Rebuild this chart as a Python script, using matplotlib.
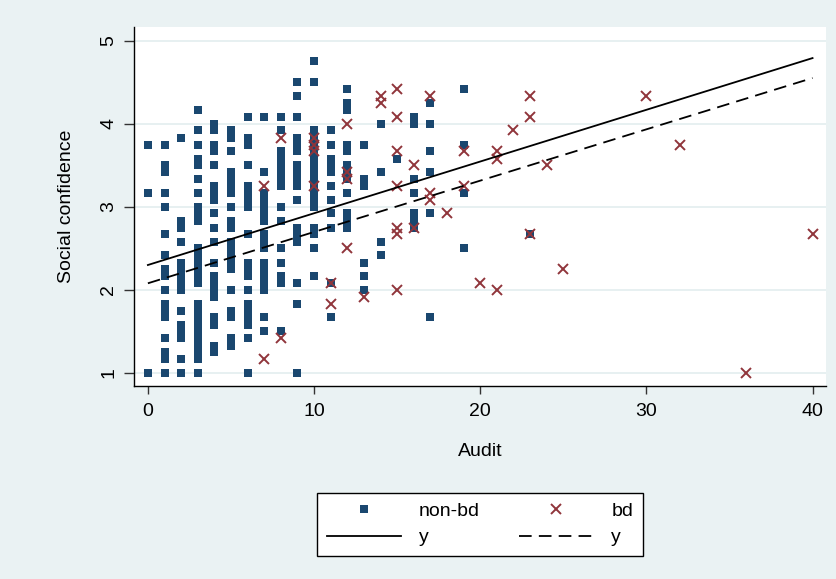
import matplotlib
matplotlib.use("Agg")
import matplotlib.pyplot as plt
from matplotlib.lines import Line2D

# ---------------- data ----------------
nonbd_audit = [0, 1, 2, 3, 4, 5, 6, 7, 8, 9, 10, 11, 12, 13, 14, 15, 16, 17, 19, 23]
nonbd_conf = [
    [3.75, 3.17, 1.00],
    [3.75, 3.50, 3.42, 3.17, 3.00, 2.67, 2.42, 2.25, 2.17, 2.00, 1.83, 1.75, 1.67, 1.42, 1.25, 1.17, 1.00],
    [3.83, 2.83, 2.75, 2.58, 2.33, 2.25, 2.17, 2.08, 2.00, 1.75, 1.58, 1.50, 1.42, 1.17, 1.00],
    [4.17, 3.92, 3.75, 3.58, 3.50, 3.33, 3.17, 3.00, 2.92, 2.83, 2.50, 2.42, 2.33, 2.25, 2.17, 2.08,
     1.83, 1.75, 1.67, 1.58, 1.50, 1.42, 1.33, 1.25, 1.17, 1.00],
    [4.00, 3.92, 3.75, 3.67, 3.50, 3.25, 3.17, 3.08, 2.92, 2.75, 2.58, 2.33, 2.17, 2.08, 2.00, 1.92,
     1.67, 1.58, 1.33, 1.25],
    [3.92, 3.83, 3.67, 3.42, 3.33, 3.25, 3.17, 3.00, 2.83, 2.75, 2.58, 2.50, 2.42, 2.33, 2.25, 2.00,
     1.75, 1.67, 1.42, 1.33],
    [4.08, 3.83, 3.75, 3.50, 3.25, 3.17, 3.08, 3.00, 2.67, 2.33, 2.25, 2.17, 2.00, 1.83, 1.75, 1.67,
     1.58, 1.42, 1.00],
    [4.08, 3.42, 3.17, 3.08, 3.00, 2.92, 2.83, 2.67, 2.58, 2.50, 2.33, 2.25, 2.17, 2.08, 2.00, 1.67, 1.50],
    [4.08, 3.92, 3.67, 3.58, 3.50, 3.42, 3.33, 3.25, 3.00, 2.83, 2.50, 2.33, 2.17, 2.08, 1.50],
    [4.50, 4.33, 4.08, 3.83, 3.75, 3.67, 3.50, 3.42, 3.33, 3.25, 3.08, 2.75, 2.67, 2.58, 2.08, 1.83, 1.00],
    [4.75, 4.50, 3.92, 3.83, 3.75, 3.67, 3.58, 3.50, 3.42, 3.33, 3.25, 3.17, 3.08, 3.00, 2.75, 2.67,
     2.50, 2.17],
    [3.92, 3.75, 3.58, 3.50, 3.42, 3.25, 3.08, 2.92, 2.75, 2.08, 1.67],
    [4.42, 4.25, 4.17, 3.75, 3.67, 3.50, 3.42, 3.33, 3.17, 2.92, 2.83, 2.75],
    [3.75, 3.33, 3.25, 2.33, 2.17, 2.00],
    [4.00, 3.42, 2.58, 2.42],
    [3.58],
    [4.08, 4.00, 3.33, 3.17, 2.92, 2.83, 2.75],
    [4.25, 4.00, 3.67, 3.42, 2.92, 1.67],
    [4.42, 3.75, 3.17, 2.50],
    [2.67],
]

bd_audit = [7, 8, 10, 11, 12, 13, 14, 15, 16, 17, 18, 19, 20, 21, 22, 23, 24, 25, 30, 32, 36, 40]
bd_conf = [
    [3.25, 1.17],
    [3.83, 1.42],
    [3.83, 3.75, 3.67, 3.25],
    [2.08, 1.83],
    [4.00, 3.42, 3.33, 2.50],
    [1.92],
    [4.33, 4.25],
    [4.42, 4.08, 3.67, 3.25, 2.75, 2.67, 2.00],
    [3.50, 2.75],
    [4.33, 3.17, 3.08],
    [2.92],
    [3.67, 3.25],
    [2.08],
    [3.67, 3.58, 2.00],
    [3.92],
    [4.33, 4.08, 2.67],
    [3.50],
    [2.25],
    [4.33],
    [3.75],
    [1.00],
    [2.67],
]

fit_x = [0, 40]
fit_all_y = [2.30, 4.79]
fit_bd_y = [2.08, 4.55]

x_ticks = [0, 10, 20, 30, 40]
y_ticks = [1, 2, 3, 4, 5]

# ---------------- style ----------------
plt.rcParams["font.family"] = ["Liberation Sans", "DejaVu Sans"]

BG = "#EAF2F3"
NAVY = "#1A476F"
RED = "#90353B"
FS = 14

W, H = 837, 579
fig = plt.figure(figsize=(W / 100, H / 100), dpi=100, facecolor=BG)
ax = fig.add_axes([134 / W, (H - 386) / H, (826 - 134) / W, (386 - 27) / H])
ax.set_facecolor("white")

for yt in y_ticks:
    ax.axhline(yt, color="#E3EDEF", lw=1.2, zorder=0)

nx, ny = [], []
for a, col in zip(nonbd_audit, nonbd_conf):
    nx += [a] * len(col)
    ny += col
bx, by = [], []
for a, col in zip(bd_audit, bd_conf):
    bx += [a] * len(col)
    by += col

ax.plot(nx, ny, ls="none", marker="s", ms=5.2, mew=0, color=NAVY, zorder=3)
ax.plot(bx, by, ls="none", marker="x", ms=6.5, mew=1.4, color=RED, zorder=4)
ax.plot(fit_x, fit_all_y, color="black", lw=1.3, zorder=5)
ax.plot(fit_x, fit_bd_y, color="black", lw=1.3, ls=(0, (7, 4)), zorder=5)

ax.set_xlim(-0.836, 40.81)
ax.set_ylim(0.844, 5.164)

for s in ["top", "right"]:
    ax.spines[s].set_visible(False)
for s in ["left", "bottom"]:
    ax.spines[s].set_color("black")
    ax.spines[s].set_linewidth(1.0)

ax.set_xticks(x_ticks)
ax.set_yticks(y_ticks)
ax.set_yticklabels([str(v) for v in y_ticks], rotation=90, va="center")
ax.tick_params(axis="both", direction="out", width=1, color="#333333",
               labelsize=FS, labelcolor="black")
ax.tick_params(axis="y", length=7, pad=5)
ax.tick_params(axis="x", length=5.5, pad=7)

ax.set_xlabel("Audit", fontsize=FS, labelpad=16)
ax.set_ylabel("Social confidence", fontsize=FS, labelpad=18)

h_nonbd = Line2D([], [], ls="none", marker="s", ms=5.2, mew=0, color=NAVY)
h_bd = Line2D([], [], ls="none", marker="x", ms=6.5, mew=1.4, color=RED)
h_all = Line2D([], [], color="black", lw=1.3)
h_bdfit = Line2D([], [], color="black", lw=1.3, ls=(0, (7, 4)))
leg = fig.legend([h_nonbd, h_all, h_bd, h_bdfit], ["non-bd", "y", "bd", "y"],
                 ncol=2, loc="center", bbox_to_anchor=(480 / W, 1 - 524.5 / H),
                 fontsize=FS, frameon=True, fancybox=False, edgecolor="black",
                 facecolor="white", framealpha=1, handlelength=3.8, handletextpad=0.95,
                 columnspacing=2.0, borderpad=0.5, labelspacing=0.45)
leg.get_frame().set_linewidth(1.0)

fig.savefig("out.png", dpi=100, facecolor=BG)
